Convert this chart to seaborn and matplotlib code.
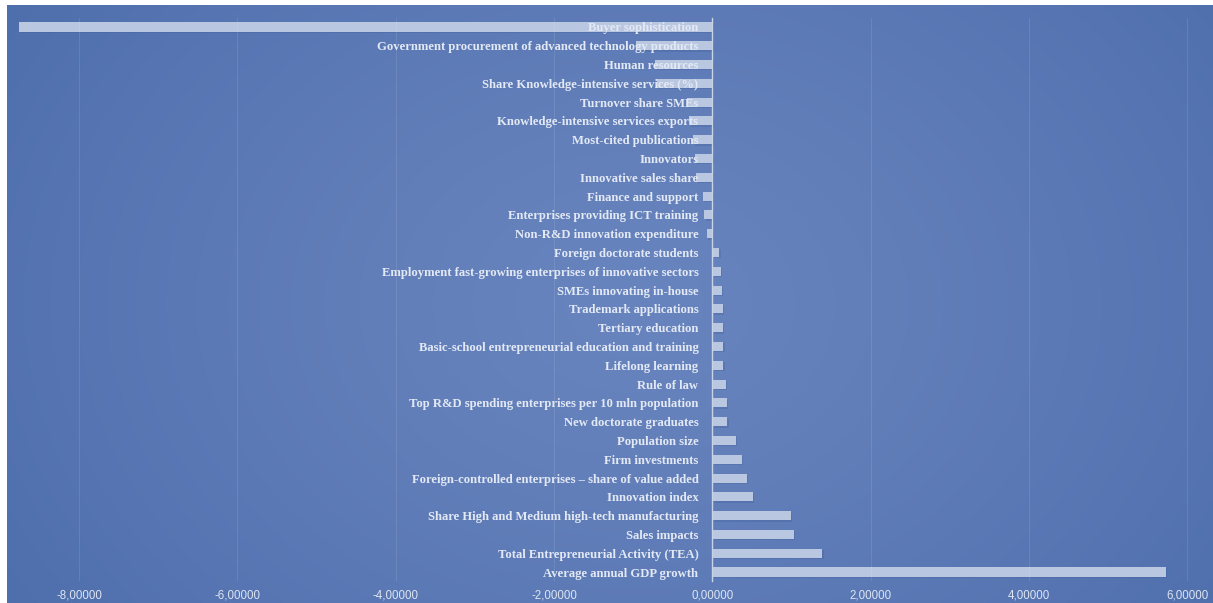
import numpy as np
import pandas as pd
import matplotlib
matplotlib.use("Agg")
import matplotlib.pyplot as plt
import seaborn as sns
from matplotlib.ticker import FuncFormatter
import matplotlib.patheffects as pe

categories = [
    "Buyer sophistication",
    "Government procurement of advanced technology products",
    "Human resources",
    "Share Knowledge-intensive services (%)",
    "Turnover share SMEs",
    "Knowledge-intensive services exports",
    "Most-cited publications",
    "Innovators",
    "Innovative sales share",
    "Finance and support",
    "Enterprises providing ICT training",
    "Non-R&D innovation expenditure",
    "Foreign doctorate students",
    "Employment fast-growing enterprises of innovative sectors",
    "SMEs innovating in-house",
    "Trademark applications",
    "Tertiary education",
    "Basic-school entrepreneurial education and training",
    "Lifelong learning",
    "Rule of law",
    "Top R&D spending enterprises per 10 mln population",
    "New doctorate graduates",
    "Population size",
    "Firm investments",
    "Foreign-controlled enterprises \u2013 share of value added",
    "Innovation index",
    "Share High and Medium high-tech manufacturing",
    "Sales impacts",
    "Total Entrepreneurial Activity (TEA)",
    "Average annual GDP growth",
]
values = [
    -8.76, -0.96, -0.72, -0.70, -0.32, -0.29, -0.24, -0.22, -0.20, -0.12,
    -0.10, -0.07, 0.09, 0.11, 0.12, 0.13, 0.13, 0.14, 0.14, 0.17,
    0.18, 0.19, 0.30, 0.37, 0.44, 0.51, 0.99, 1.03, 1.39, 5.73,
]
x_ticks = [-8, -6, -4, -2, 0, 2, 4, 6]

sns.set_theme(style="white")

W, H = 1213, 603
fig = plt.figure(figsize=(W / 100, H / 100), dpi=100, facecolor="white")

# gradient background panel
bg = fig.add_axes([7 / W, 0, 1 - 7 / W, 1 - 5 / H])
ny, nx = 200, 400
yy, xx = np.mgrid[0:1:ny * 1j, 0:1:nx * 1j]
d = np.sqrt(((xx - 0.52) / 0.62) ** 2 + ((yy - 0.5) / 0.95) ** 2)
d = np.clip(d, 0, 1) ** 1.3
center = np.array([104, 132, 190]) / 255
edge = np.array([78, 110, 172]) / 255
img = center * (1 - d[..., None]) + edge * d[..., None]
bg.imshow(img, aspect="auto", extent=[0, 1, 0, 1], origin="lower")
bg.axis("off")

top_px, bot_px = 17.6, 581.4
ax = fig.add_axes([8 / W, (H - bot_px) / H, 1202 / W, (bot_px - top_px) / H])
ax.patch.set_alpha(0)

df = pd.DataFrame({"category": categories, "value": values})
sns.barplot(data=df, x="value", y="category", orient="h", color="#b9c7e1",
            saturation=1, width=0.48, ax=ax)

for p in ax.patches:
    p.set_linewidth(0)
    p.set_path_effects([pe.SimplePatchShadow(offset=(1.0, -1.0), shadow_rgbFace="#3a5896", alpha=0.25),
                        pe.Normal()])

ax.set_xlim(-8.90, 6.29)
ax.set_ylim(len(categories) - 0.5, -0.5)
ax.set_xlabel("")
ax.set_ylabel("")

for s in ["top", "right", "bottom"]:
    ax.spines[s].set_visible(False)
ax.spines["left"].set_position(("data", 0))
ax.spines["left"].set_color("#c9d3e8")
ax.spines["left"].set_linewidth(1.0)

ax.set_xticks(x_ticks)
ax.xaxis.set_major_formatter(FuncFormatter(lambda v, pos: f"{v:.5f}".replace(".", ",")))
ax.tick_params(axis="x", length=0, pad=6, labelsize=8.3, labelcolor="#dde5f2")
ax.tick_params(axis="y", length=0, pad=10)
for lab in ax.get_xticklabels():
    lab.set_fontfamily("Liberation Sans")
for lab in ax.get_yticklabels():
    lab.set_fontfamily("Liberation Serif")
    lab.set_fontweight("bold")
    lab.set_fontsize(9.1)
    lab.set_color("#e3e9f4")

ax.grid(axis="x", color="white", alpha=0.10, linewidth=0.8)
ax.grid(axis="y", visible=False)
ax.set_axisbelow("line")

fig.savefig("out.png", dpi=100, facecolor="white")
